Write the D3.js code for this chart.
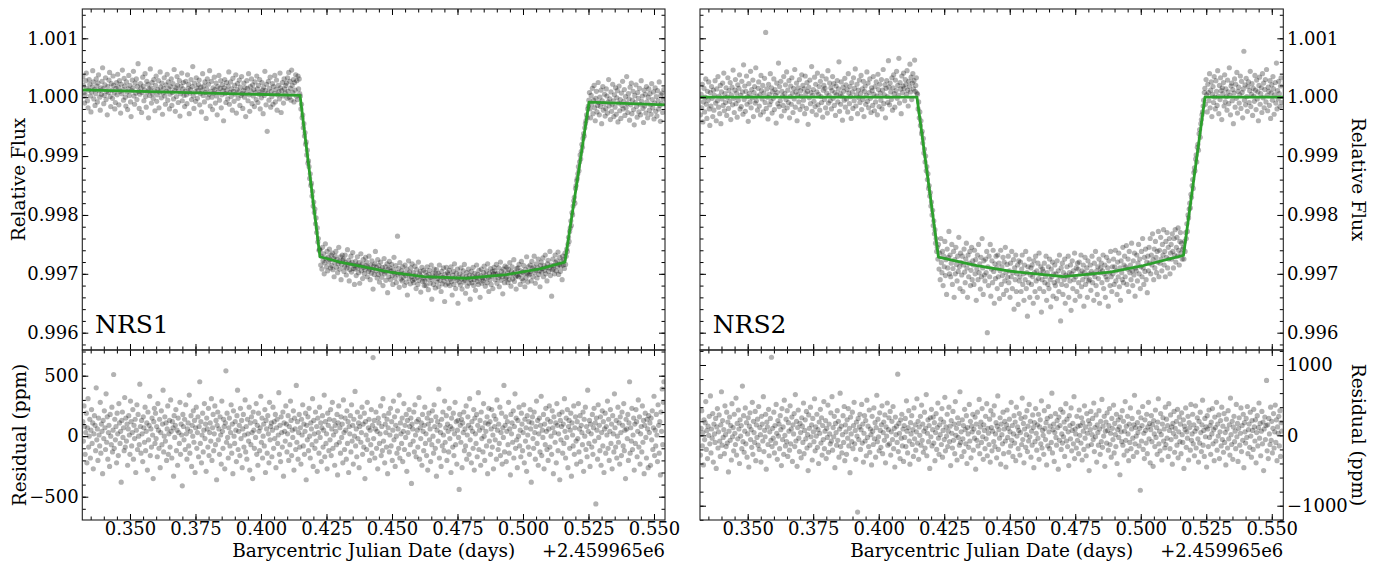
<!DOCTYPE html>
<html>
<head>
<meta charset="utf-8">
<script src="https://cdn.jsdelivr.net/npm/d3@7"></script>
<style>
  body { margin: 0; background: #fff; }
  text { font-family: "DejaVu Serif", serif; font-size: 18px; fill: #000; }
</style>
</head>
<body>
<svg width="1377" height="562"></svg>
<script>
// ---- data -------------------------------------------------------------
// tick labels
var xMajor = [0.350, 0.375, 0.400, 0.425, 0.450, 0.475, 0.500, 0.525, 0.550];
var fluxMajor = [0.996, 0.997, 0.998, 0.999, 1.000, 1.001];
var res1Major = [-500, 0, 500];
var res2Major = [-1000, 0, 1000];
var timeOffsetLabel = "+2.459965e6";

// exposures: BJD - 2459965, regular cadence
var tStart = 0.3320, cadence = 0.000222;

// NRS1 relative flux, (flux - 1) in units of 10 ppm
var nrs1Flux = [
  35,20,8,-10,4,28,41,15,-6,-18,12,30,22,2,-25,9,17,45,26,-3,13,-14,6,31,19,
  -8,24,38,11,0,-22,16,5,27,50,14,-11,3,21,33,-4,10,-30,18,8,29,42,1,-16,23,
  12,-2,36,20,7,-20,-9,15,25,4,39,17,-13,28,10,-27,22,6,46,13,-5,32,19,0,-15,
  26,9,-21,14,37,3,20,-8,-33,11,29,16,44,2,-12,24,7,31,-4,18,57,10,-19,5,23,
  15,-26,8,34,19,-6,12,40,1,-17,27,9,22,-35,14,3,48,16,-10,25,6,-2,30,11,-23,
  20,36,-7,4,13,28,-18,9,43,17,-1,24,-29,7,15,33,2,-12,21,10,39,-5,26,14,-20,
  5,18,31,-14,8,23,-3,47,12,-24,16,1,35,20,-9,11,28,-32,6,19,41,-6,14,25,3,
  -16,10,27,4,-11,38,15,22,-28,7,13,30,-4,18,52,2,-19,24,9,-7,33,16,-2,11,21,
  29,-13,6,17,-25,12,40,3,19,-8,26,8,-36,14,31,-1,22,5,45,-15,10,27,0,-21,16,
  7,34,13,-10,24,2,-30,18,9,37,-5,15,28,-18,4,21,11,-40,16,30,6,-9,25,12,-3,
  19,43,-12,8,26,1,14,-22,32,10,-7,20,5,38,-27,13,23,-2,9,29,-14,17,3,35,6,
  -19,11,24,0,16,-33,7,28,15,-6,40,4,-24,18,10,31,-11,21,2,13,-16,26,8,-4,36,
  14,-9,20,5,30,-20,9,-1,25,12,-28,17,3,44,11,-13,22,-58,7,27,-5,15,34,-17,10,
  1,23,-12,18,6,37,-8,13,29,-22,4,20,9,-3,41,16,-26,11,25,2,-10,31,14,7,20,
  24,-2,33,10,42,0,27,15,-5,46,20,8,30,-8,25,12,38,2,28,-4,36,14,31,6,
  2,-20,-12,-35,-30,-52,-45,-66,-60,-80,-76,-98,-90,-112,-108,-118,-138,-130,-150,-146,
  -168,-160,-185,-178,-196,-190,-215,-205,-230,-222,-246,-240,-260,-258,
  -260,-285,-270,-292,-255,-278,-266,-300,-281,-249,-274,-288,-262,-295,-271,-280,-258,-276,-290,-268,
  -286,-265,-293,-274,-305,-281,-270,-262,-289,-276,-298,-283,-255,-279,-292,-271,-310,-284,-268,-277,
  -275,-296,-288,-268,-281,-302,-290,-259,-285,-277,-312,-293,-283,-270,-297,-280,-264,-291,-286,-318,
  -292,-279,-303,-285,-271,-290,-298,-281,-316,-287,-266,-295,-284,-308,-276,-289,-300,-293,-272,-286,
  -280,-305,-288,-296,-270,-292,-310,-285,-299,-278,-293,-326,-287,-301,-283,-262,-295,-289,-307,-276,
  -301,-286,-314,-293,-280,-298,-306,-289,-320,-295,-274,-300,-288,-311,-297,-283,-332,-292,-305,-279,
  -290,-310,-296,-284,-303,-318,-293,-272,-299,-307,-286,-315,-298,-236,-302,-291,-323,-281,-300,-309,
  -295,-312,-288,-306,-299,-320,-285,-303,-314,-292,-336,-300,-278,-308,-297,-317,-290,-305,-283,-311,
  -298,-315,-309,-287,-302,-325,-293,-306,-318,-280,-311,-300,-296,-331,-304,-289,-313,-307,-294,-320,
  -312,-297,-320,-303,-288,-309,-327,-301,-294,-316,-306,-285,-343,-310,-299,-318,-292,-305,-324,-300,
  -293,-314,-308,-299,-322,-285,-311,-303,-330,-296,-317,-306,-290,-312,-347,-301,-319,-289,-308,-298,
  -316,-301,-294,-320,-309,-288,-313,-336,-302,-296,-318,-283,-307,-325,-299,-311,-292,-350,-306,-314,
  -300,-319,-290,-309,-326,-303,-295,-314,-284,-311,-333,-305,-298,-321,-308,-292,-316,-302,-343,-310,
  -296,-315,-304,-289,-320,-310,-299,-328,-306,-285,-313,-301,-318,-294,-309,-340,-303,-292,-316,-307,
  -312,-298,-287,-308,-321,-302,-295,-315,-283,-306,-330,-299,-310,-291,-318,-304,-296,-325,-300,-289,
  -295,-310,-301,-284,-316,-299,-307,-290,-322,-303,-280,-311,-296,-305,-334,-292,-300,-315,-287,-308,
  -306,-289,-298,-315,-293,-310,-281,-302,-321,-296,-288,-309,-300,-276,-313,-297,-305,-326,-291,-303,
  -290,-305,-284,-301,-318,-295,-279,-308,-297,-312,-286,-300,-322,-293,-307,-271,-299,-314,-288,-302,
  -300,-285,-296,-312,-279,-291,-305,-288,-270,-298,-316,-294,-283,-307,-290,-275,-301,-295,-322,-286,
  -280,-297,-291,-273,-305,-286,-294,-268,-300,-289,-312,-283,-277,-296,-290,-262,-303,-285,-338,-293,
  -275,-292,-286,-300,-268,-281,-295,-278,-288,-263,-301,-284,-272,-296,-287,-279,-310,-270,-285,-276,-291,
  -265,-284,-270,-258,-262,-250,-238,-245,-228,-222,-210,-218,-196,-200,-185,-176,-170,-180,-155,-150,
  -142,-138,-130,-118,-125,-110,-98,-105,-92,-80,-85,-70,-62,-66,-52,-45,-40,-30,-35,-20,-15,-5,
  8,-20,-35,3,-12,15,-28,-5,20,-18,-40,-2,10,-25,-14,25,-9,-30,0,-16,12,-45,-6,18,-22,
  -11,5,-32,-19,14,2,-27,-8,30,-15,-3,-38,9,-24,-12,22,-6,-33,4,-17,16,-29,-1,11,-42,
  -10,19,-23,-4,-36,7,-14,27,-20,-7,13,-31,1,-18,35,-11,-26,6,-3,-39,17,-13,24,-28,-5,
  10,-21,-47,3,-9,21,-16,-34,8,-2,-25,15,-12,-30,28,-7,2,-19,-43,12,-15,5,-27,18,-8,
  -35,0,14,-22,6,-13,-29,23,-4,-18,9,-37,-10,16,-24,1,-32,11,-6,-20,26,-14,-41,4,-11,
  7,-26,-3,13
];

// NRS1 residuals, units of 10 ppm
var nrs1Resid = [
  12,-4,25,8,-15,3,19,-22,7,31,-9,0,14,-18,5,22,-6,11,-27,2,17,9,-12,40,-3,
  6,-20,15,1,-8,28,-14,10,4,-31,13,-2,21,7,-11,35,-5,16,-19,3,9,-25,18,0,-7,
  24,-13,5,51,-10,14,-3,8,-22,19,2,-16,27,11,-6,4,-38,13,20,-1,7,-12,32,-9,15,
  -4,10,-24,6,17,1,-15,29,12,-8,3,22,-19,9,-2,14,-30,5,26,-11,18,0,-7,43,8,
  -14,13,2,-21,16,7,-5,24,-12,4,11,-28,20,-3,9,33,-16,6,-9,15,1,-35,12,23,-6,
  19,-2,8,-17,27,5,-10,14,-26,3,21,-7,10,38,-13,0,16,-4,11,-20,6,25,-15,2,13,
  -9,30,4,-18,12,7,-33,17,-1,9,22,-12,5,-24,15,3,-6,28,-15,10,1,-41,18,8,-3,
  14,-11,26,2,-19,6,11,-8,34,-14,4,17,-25,9,0,21,-5,13,-30,7,24,-10,3,16,-17,
  8,45,-6,12,-22,1,19,-13,5,27,-2,10,-29,15,6,-9,23,-16,3,11,-4,31,-20,7,18,
  -12,2,25,-7,13,-36,9,20,-3,6,-15,16,1,-23,29,4,-10,14,8,-27,11,54,-5,19,-1,
  -18,7,15,-8,3,26,-14,10,-31,21,0,-6,12,5,-21,17,38,-11,4,9,-16,23,-2,13,-26,
  6,18,-9,1,30,-13,8,-19,14,2,-4,24,-28,11,-7,16,3,-35,20,5,-10,12,-1,27,-15,
  9,-24,19,4,-12,7,33,-5,15,-18,0,10,-8,22,-30,13,6,-14,17,2,-22,28,-3,8,11,
  -17,5,24,-10,12,-2,18,-26,7,14,-6,1,36,-15,9,-21,16,3,-9,20,-33,11,4,-4,25,
  10,-13,2,17,-20,8,-7,29,13,-16,5,-1,21,-28,15,6,-11,42,-5,12,-19,3,18,-9,7,
  -23,14,1,26,-8,10,-15,4,19,-36,9,-3,16,-12,23,0,-18,11,6,-7,31,-25,13,2,-10,
  20,-4,8,-29,15,3,-14,24,-1,11,-21,7,17,-9,5,34,-17,12,-6,2,-27,19,9,-12,14,
  -3,22,-16,6,28,-10,1,13,-24,9,4,-7,18,-32,11,25,-5,7,-14,16,-1,10,-22,30,3,
  -11,15,5,-19,21,-6,12,-30,8,2,17,-13,26,-4,9,-23,14,0,37,-8,6,-17,20,-2,11,
  -26,8,16,-5,3,24,-15,10,-9,19,-35,12,1,-11,28,-3,7,14,-20,5,-7,22,-14,9,65,
  -2,13,-18,6,20,-10,4,-27,15,11,-6,2,25,-16,8,-12,31,-4,17,-22,10,3,-9,14,-31,
  7,19,-13,1,23,-8,12,-20,5,29,-3,16,-25,9,0,-14,21,6,-10,34,-18,11,2,-6,15,
  -21,4,27,-11,9,-1,18,-29,13,3,-15,22,8,-7,15,-39,10,6,-4,20,-13,26,1,-17,12,
  5,-9,14,32,-19,7,-2,11,-24,18,4,-12,9,24,-6,2,-16,15,-28,10,19,-3,6,-21,13,
  -7,21,0,-14,26,8,-10,16,-33,5,12,-4,39,-18,9,3,-25,14,-8,20,1,-12,29,-5,7,
  17,-20,10,4,-13,23,-2,8,-30,15,6,-9,19,-16,2,28,-7,12,-23,5,13,-1,-44,18,9,
  -5,14,-26,11,3,20,-12,6,-8,25,-19,1,16,9,-15,31,-3,7,-22,12,4,-10,22,-28,15,
  2,-6,18,-17,9,36,-11,5,13,-24,20,-2,7,-13,27,0,-20,11,4,-8,16,-31,10,23,-4,
  12,-15,6,22,-9,1,-27,17,8,-3,14,-19,30,5,-11,10,-6,24,-16,3,19,-23,7,-1,42,
  -13,9,16,-21,4,12,-7,28,-14,6,-32,18,2,11,-5,21,-18,8,35,-10,15,-3,-26,13,0,
  24,-8,5,-17,19,10,-12,3,26,-22,14,-4,7,-29,17,1,-9,12,-15,22,6,-38,11,16,-2,
  -10,20,3,-19,8,29,-6,13,-24,2,15,-13,9,33,-16,5,-1,18,-27,10,-7,23,4,-11,14,
  -20,6,25,-9,12,0,-15,21,7,-31,16,3,-5,11,-22,27,9,-12,2,18,-36,13,-3,8,20,
  -14,10,-6,31,4,-18,15,-1,22,-26,8,13,-10,5,19,-33,11,1,-8,25,-15,7,16,-4,-23,
  12,-2,27,-13,6,17,-21,9,3,-7,20,-29,14,0,24,-11,8,-17,38,4,-6,13,-25,10,2,
  -9,18,-15,7,23,-4,11,-56,15,5,-19,26,-1,9,-12,16,-24,3,21,-8,12,-30,6,19,-14,
  8,1,29,-10,14,-20,4,22,-6,10,-27,17,2,-13,35,7,-9,13,-18,0,24,-5,11,-23,16,
  3,-16,20,9,-8,27,-12,5,-35,14,6,-2,18,-20,11,45,-14,7,-4,23,-11,1,15,-28,10,
  -6,22,12,-17,4,30,-9,16,-23,2,8,-13,25,-5,13,-31,9,19,-1,-18,14,6,-26,17,3,
  11,-24,15,-3,21,-11,7,33,-16,5,-8,18,1,-21,26,9,-14,12,-32,20,4,39,-7,28,45
];

// NRS2 relative flux, (flux - 1) in units of 10 ppm
var nrs2Flux = [
  -30,5,-18,22,-42,-8,15,-25,0,31,-12,-36,10,-5,26,-20,-48,8,-15,18,-2,-33,12,-22,3,
  28,-10,-40,14,-6,35,-17,2,-28,20,-45,9,-3,24,-14,41,-23,6,-9,16,-31,0,33,-19,11,
  -7,25,-38,4,17,-13,46,-2,-26,12,30,-11,7,-34,21,-5,15,38,-20,3,-16,27,9,-29,55,
  -4,19,-24,10,36,-12,1,-41,23,6,-8,44,-18,13,-1,29,-33,8,18,-10,50,-6,2,-22,15,
  26,-15,4,-30,37,11,-3,20,-25,7,32,-9,110,-19,14,0,-37,22,5,-13,40,-7,16,-27,9,
  -2,31,-21,13,3,-44,24,8,-11,58,-16,18,-6,27,-32,10,2,-14,35,-23,6,21,-4,43,-18,
  12,-9,28,-35,1,19,-12,33,7,-26,15,-3,47,-17,9,24,-40,4,16,-8,30,-21,11,2,38,
  -15,20,-5,14,-28,36,6,-19,25,10,-46,17,-1,29,-11,8,52,-24,3,13,-7,34,-16,22,-30,
  9,41,-13,5,18,-22,27,1,-9,36,-34,12,20,-4,15,-18,31,7,-27,45,-10,3,24,-6,16,
  -20,11,35,-2,23,-14,8,-31,19,4,28,-8,14,60,-24,6,-12,26,2,-39,17,10,-5,32,-17,
  21,-3,13,-25,40,7,-11,18,1,-36,25,9,-19,33,-6,15,48,-15,4,22,-28,12,-1,29,-9,
  6,37,-21,14,-4,27,-33,10,19,-12,3,43,-7,24,-18,8,31,-2,-26,16,11,-14,35,5,-23,
  18,-8,26,2,-30,39,13,-16,22,7,-5,30,-20,12,47,-11,4,21,-35,15,28,1,-9,62,17,
  -13,24,9,-4,33,-22,16,38,6,-17,29,11,44,-2,20,3,66,-10,25,14,-28,36,8,19,41,
  15,-6,30,22,5,45,12,-15,27,18,56,9,34,-4,24,40,14,28,63,10,20,33,7,
  5,-20,-8,-35,-25,-48,-40,-62,-58,-78,-70,-95,-88,-110,-100,-125,-118,-140,
  -130,-155,-150,-168,-162,-185,-178,-200,-192,-218,-210,-232,-225,-248,-240,-262,-255,-275,
  -250,-292,-265,-310,-240,-281,-298,-262,-320,-270,-288,-245,-303,-276,-335,-258,-290,-272,-228,-300,
  -268,-305,-282,-250,-318,-291,-262,-340,-276,-300,-255,-284,-312,-270,-296,-238,-288,-325,-265,-281,
  -302,-270,-330,-285,-258,-297,-315,-275,-248,-290,-340,-268,-305,-282,-262,-320,-294,-255,-310,-278,
  -285,-318,-260,-300,-276,-345,-292,-268,-310,-250,-298,-283,-326,-272,-305,-240,-290,-335,-278,-302,
  -312,-275,-298,-262,-400,-288,-320,-270,-305,-250,-338,-292,-278,-315,-260,-296,-350,-283,-308,-270,
  -290,-325,-268,-305,-282,-342,-295,-260,-318,-288,-303,-272,-335,-280,-312,-255,-298,-328,-284,-306,
  -270,-315,-295,-340,-282,-305,-262,-325,-298,-276,-360,-290,-310,-268,-330,-300,-285,-352,-278,-312,
  -305,-280,-330,-292,-268,-318,-300,-345,-285,-310,-262,-325,-298,-372,-288,-315,-275,-340,-302,-290,
  -318,-285,-305,-350,-278,-298,-330,-270,-312,-295,-340,-282,-308,-265,-325,-300,-288,-365,-310,-292,
  -296,-330,-282,-315,-305,-270,-345,-298,-318,-288,-325,-275,-310,-356,-292,-305,-280,-338,-300,-315,
  -285,-320,-300,-342,-278,-312,-295,-330,-268,-305,-380,-290,-318,-282,-335,-298,-310,-275,-350,-302,
  -320,-288,-305,-270,-340,-298,-312,-285,-362,-300,-278,-325,-295,-310,-265,-345,-305,-290,-330,-282,
  -292,-315,-280,-338,-300,-268,-322,-295,-310,-285,-355,-298,-272,-318,-305,-290,-340,-278,-312,-300,
  -310,-285,-328,-296,-270,-315,-300,-345,-282,-305,-262,-320,-295,-335,-288,-308,-275,-350,-298,-290,
  -282,-315,-295,-268,-325,-300,-285,-340,-305,-272,-310,-290,-355,-278,-298,-320,-262,-305,-330,-288,
  -300,-275,-318,-288,-260,-312,-295,-335,-280,-305,-265,-322,-290,-345,-278,-298,-310,-255,-315,-285,
  -270,-305,-288,-252,-318,-292,-275,-330,-262,-298,-285,-310,-248,-295,-320,-278,-302,-265,-338,-290,
  -295,-268,-312,-282,-250,-300,-275,-325,-288,-262,-305,-240,-290,-318,-272,-296,-258,-310,-280,-332,
  -270,-295,-255,-282,-240,-300,-268,-285,-232,-276,-310,-258,-290,-245,-272,-298,-262,-280,-228,-305,
  -260,-282,-238,-275,-295,-250,-268,-225,-285,-262,-305,-245,-272,-230,-290,-255,-275,-240,-300,-265,
  -250,-275,-232,-262,-290,-240,-268,-225,-280,-255,-238,-270,-222,-260,-285,-245,-230,-265,-248,-275,-258,
  -255,-275,-245,-262,-230,-240,-215,-228,-200,-205,-190,-180,-188,-165,-170,-150,-140,-155,-128,-120,
  -125,-105,-98,-110,-85,-80,-90,-62,-55,-68,-45,-38,-30,-25,-15,-5,8,
  15,-12,30,4,-25,22,8,-6,40,-18,12,26,-33,5,18,-9,35,0,-20,28,10,-14,45,2,-28,
  20,-4,33,11,-38,16,6,25,-15,38,-8,14,1,-22,29,9,-11,50,3,-30,19,24,-6,13,-45,
  7,31,-17,22,-2,42,-27,10,17,-10,4,36,-19,27,8,-35,14,78,-5,21,-13,32,1,-24,18,
  26,-9,11,44,-16,5,23,-31,15,2,-7,37,12,-21,29,-3,9,-40,20,34,-12,6,16,-26,40,
  -1,24,-18,13,30,-8,47,3,-23,17,10,-14,28,-36,7,21,-5,35,14,-29,4,25,-10,58,-20,
  11,-3,27,6,-16,19,33,-9
];

// NRS2 residuals, units of 10 ppm
var nrs2Resid = [
  -28,10,35,-15,4,-42,22,-6,18,48,-20,7,-33,13,0,27,-12,56,-25,9,-4,31,-38,16,2,
  -10,24,-47,12,38,-18,5,29,-8,-30,15,62,-14,21,-3,8,-26,42,1,-16,33,-11,19,-52,6,
  26,-7,14,-35,45,-2,11,-22,30,3,-13,53,-28,17,-5,36,9,-40,22,-1,14,-19,70,-9,28,
  -24,6,39,-12,18,-31,2,25,-45,13,32,-6,8,-17,47,-27,20,4,-10,34,-36,15,-3,23,-14,
  41,-20,11,1,-38,27,16,-8,55,-23,7,-2,30,-48,19,12,-13,37,-29,5,24,-7,111,-16,10,
  -4,33,-25,14,-11,44,3,-34,21,-1,16,-19,28,8,-43,38,-6,12,-27,50,0,-15,23,-9,35,
  -30,18,6,-21,42,-12,9,26,-37,15,2,31,-16,58,-8,20,-44,11,36,-4,-23,17,4,-32,25,
  13,-10,46,-26,7,22,-5,34,-18,1,-50,29,10,-14,40,-2,15,-35,24,5,-9,52,-22,12,-1,
  30,-17,8,-40,19,3,37,-11,25,-28,14,-6,48,-19,6,21,-33,10,-3,43,-24,16,2,-12,32,
  -8,55,-21,11,-2,27,-46,17,4,-14,35,-7,20,-31,9,60,-16,13,-25,1,28,-10,41,-36,15,
  5,-27,22,-4,38,-15,10,-53,26,2,-9,33,-19,14,47,-12,7,-34,19,-1,-109,24,-6,12,30,
  -20,8,44,-11,16,-38,3,28,-8,21,-29,50,-3,13,-16,36,-24,9,1,-42,27,6,-13,39,-5,
  18,-31,11,57,-9,23,-2,-22,32,7,-17,15,42,-26,4,19,-7,29,-39,12,-1,46,-14,8,25,
  -12,34,-28,5,20,-6,41,-19,10,-45,26,1,13,-10,87,-23,17,3,-33,22,-4,30,-15,9,-37,
  14,-3,24,-16,49,6,-25,11,35,-8,-41,18,2,28,-13,8,-30,39,-5,15,-21,5,52,-11,20,
  -34,12,0,27,-14,43,-7,16,-24,6,33,-18,10,58,-29,3,22,-9,14,-47,25,-2,37,-15,8,
  26,-11,18,-36,4,31,-20,11,46,-4,-27,15,1,23,-13,38,-31,7,19,-6,54,-22,12,-1,30,
  -16,6,40,-9,13,-43,21,3,-18,34,-7,16,-26,48,0,10,-35,25,-3,17,-14,62,-10,5,-30,
  22,-5,14,-23,37,8,-12,28,-40,11,2,-17,44,-8,20,-32,13,5,30,-21,9,-4,26,-48,16,
  -7,33,-15,4,51,-26,12,19,-10,38,-2,-34,15,7,-19,27,-5,45,-29,10,3,-13,23,-38,35,
  11,-22,6,29,-9,42,-16,2,18,-32,13,56,-20,8,-4,25,-41,16,1,-12,33,-26,9,20,-8,
  -45,15,36,-3,10,-24,23,5,-15,47,-7,14,-30,2,28,-11,19,-36,40,-1,12,-19,7,31,-28,
  4,24,-13,53,-6,17,-39,9,26,-17,1,35,-23,13,-8,44,-2,20,-31,6,-14,29,11,-46,18,
  -9,38,3,-21,15,-4,30,-34,12,22,-12,49,-18,7,0,-27,35,10,-6,18,-42,24,-15,41,5,
  -19,13,27,-10,60,-25,8,16,-37,4,31,-3,-14,21,11,-48,26,-7,14,37,-20,2,-11,33,-2,
  19,-30,10,45,-8,23,-16,5,-43,28,14,-5,39,-22,7,17,-12,55,-33,9,2,-18,27,-7,13,
  -26,36,0,14,-11,25,-35,18,6,-20,42,-4,12,-29,31,3,-15,21,-50,16,8,34,-13,1,24,
  -6,46,-23,11,-2,29,-38,15,4,-14,35,9,-27,20,-9,51,-17,13,-1,27,-44,6,19,-11,32,
  7,-21,14,38,-13,3,-31,24,10,-6,43,-25,17,1,-16,30,-40,8,22,-3,12,-56,26,5,-9,
  35,-14,20,-28,6,48,-7,13,-22,27,2,-36,16,-10,39,-19,9,24,-4,-30,15,57,-12,11,-1,
  -24,18,4,33,-15,10,-78,25,-8,14,41,-20,3,-33,22,7,-11,30,-26,12,47,-5,17,-39,8,
  28,-9,15,-44,21,2,-16,36,-3,11,-27,19,52,-12,6,-22,31,1,-35,16,25,-8,9,-18,40,
  -13,23,-4,14,-30,45,7,-19,29,-6,12,-41,17,3,34,-24,10,-2,20,-14,37,-32,5,26,-9,
  16,-26,32,1,-10,22,-47,13,8,39,-17,5,-4,27,-35,18,11,-21,44,-7,2,30,-12,15,-29,
  6,42,-18,10,25,-5,-38,20,-11,33,4,-23,15,50,-14,7,-30,24,-2,12,-45,28,9,-16,36,
  -3,14,-27,19,2,38,-12,8,-36,26,11,-8,47,-21,16,-1,29,-33,5,21,-15,40,-6,13,-24,
  31,-10,4,-42,23,9,-18,35,-5,15,-28,53,1,-13,20,-34,12,27,-9,6,-19,44,-2,17,-37,
  10,25,-14,3,39,-23,14,-7,30,-46,18,5,-11,24,-3,41,-26,8,16,-17,33,-1,-31,21,7,
  -20,37,12,-8,22,-39,4,28,-15,11,46,-4,17,-29,6,34,-12,19,-50,9,26,-6,14,78,-22,
  15,-33,24,2,-13,40,-7,20,-25,10,31,-18,5,43,-10,22,-36,12,3,27,-15,35,-30,18,6
];

// best-fit transit models (time, relative flux)
var nrs1Model = [[0.3318, 1.000126], [0.4149, 1.000030], [0.4225, 0.997290], [0.4302, 0.997198],
  [0.4492, 0.997027], [0.4620, 0.996954], [0.4785, 0.996925], [0.4938, 0.996988],
  [0.5065, 0.997085], [0.5160, 0.997198], [0.5252, 0.999915], [0.5542, 0.999870]];
var nrs2Model = [[0.3318, 1.000000], [0.4146, 1.000000], [0.4228, 0.997283], [0.4374, 0.997141],
  [0.4501, 0.997044], [0.4705, 0.996954], [0.4883, 0.997027], [0.5010, 0.997141],
  [0.5163, 0.997312], [0.5245, 1.000000], [0.5544, 1.000000]];

// ---- layout -----------------------------------------------------------
var svg = d3.select("svg");
var topY = 9, midY = 350, botY = 520;
var fluxDomain = [0.995706, 1.001498];

var panels = [
  {label: "NRS1", left: 82.3, right: 665, tDomain: [0.3318, 0.5542], side: "left",
   flux: nrs1Flux, resid: nrs1Resid, model: nrs1Model,
   resDomain: [-692.6, 712.4], resMajor: res1Major, resStep: 100},
  {label: "NRS2", left: 700, right: 1283.3, tDomain: [0.3318, 0.5544], side: "right",
   flux: nrs2Flux, resid: nrs2Resid, model: nrs2Model,
   resDomain: [-1203, 1213], resMajor: res2Major, resStep: 200}
];

function minorTicks(domain, step) {
  var lo = Math.min(domain[0], domain[1]), hi = Math.max(domain[0], domain[1]);
  return d3.range(Math.ceil(lo / step - 1e-9), Math.floor(hi / step + 1e-9) + 1)
    .map(function(k) { return +(k * step).toFixed(6); });
}

function addAxis(orient, scale, major, minor, pos, labels, fmt) {
  var make = {left: d3.axisLeft, right: d3.axisRight, top: d3.axisTop, bottom: d3.axisBottom}[orient];
  var tf = (orient === "left" || orient === "right") ? "translate(" + pos + ",0)" : "translate(0," + pos + ")";
  var gMin = svg.append("g").attr("transform", tf).attr("color", "#000")
    .call(make(scale).tickValues(minor).tickSize(-3.5).tickFormat(""));
  gMin.select(".domain").remove();
  var pad = (orient === "bottom") ? 2.6 : 3.6;
  var gMaj = svg.append("g").attr("transform", tf).attr("color", "#000")
    .call(make(scale).tickValues(major).tickSize(-6).tickPadding(pad)
      .tickFormat(labels ? fmt : ""));
  gMaj.select(".domain").remove();
}

var fmt3 = d3.format(".3f"), fmtInt = d3.format("d");

panels.forEach(function(p, pi) {
  var x = d3.scaleLinear(p.tDomain, [p.left, p.right]);
  var yF = d3.scaleLinear(fluxDomain, [midY, topY]);
  var yR = d3.scaleLinear(p.resDomain, [botY, midY]);
  var tAt = function(d, i) { return x(tStart + i * cadence); };

  // clip regions
  var defs = svg.append("defs");
  defs.append("clipPath").attr("id", "clipTop" + pi).append("rect")
    .attr("x", p.left).attr("y", topY).attr("width", p.right - p.left).attr("height", midY - topY);
  defs.append("clipPath").attr("id", "clipBot" + pi).append("rect")
    .attr("x", p.left).attr("y", midY).attr("width", p.right - p.left).attr("height", botY - midY);

  // light curve
  var gTop = svg.append("g").attr("clip-path", "url(#clipTop" + pi + ")");
  gTop.selectAll("circle").data(p.flux).join("circle")
    .attr("cx", tAt)
    .attr("cy", function(d) { return yF(1 + d * 1e-5); })
    .attr("r", 2.6).attr("fill", "#000").attr("fill-opacity", 0.3);
  gTop.append("path").datum(p.model)
    .attr("d", d3.line().x(function(d) { return x(d[0]); }).y(function(d) { return yF(d[1]); }))
    .attr("fill", "none").attr("stroke", "#2ca02c").attr("stroke-width", 2.8)
    .attr("stroke-linejoin", "round");

  // residuals
  var gBot = svg.append("g").attr("clip-path", "url(#clipBot" + pi + ")");
  gBot.selectAll("circle").data(p.resid).join("circle")
    .attr("cx", tAt)
    .attr("cy", function(d) { return yR(d * 10); })
    .attr("r", 2.6).attr("fill", "#000").attr("fill-opacity", 0.3);

  // axes, ticks pointing inward on every side
  var xMinor = minorTicks(p.tDomain, 0.005);
  var fMinor = minorTicks(fluxDomain, 0.0002);
  var rMinor = minorTicks(p.resDomain, p.resStep);
  var labLeft = p.side === "left";

  addAxis("top", x, xMajor, xMinor, topY, false);
  addAxis("bottom", x, xMajor, xMinor, midY, false);
  addAxis("left", yF, fluxMajor, fMinor, p.left, labLeft, fmt3);
  addAxis("right", yF, fluxMajor, fMinor, p.right, !labLeft, fmt3);

  addAxis("top", x, xMajor, xMinor, midY, false);
  addAxis("bottom", x, xMajor, xMinor, botY, true, fmt3);
  addAxis("left", yR, p.resMajor, rMinor, p.left, labLeft, fmtInt);
  addAxis("right", yR, p.resMajor, rMinor, p.right, !labLeft, fmtInt);

  [[topY, midY], [midY, botY]].forEach(function(r) {
    svg.append("rect").attr("x", p.left).attr("y", r[0])
      .attr("width", p.right - p.left).attr("height", r[1] - r[0])
      .attr("fill", "none").attr("stroke", "#222").attr("stroke-width", 1.1);
  });

  // texts
  svg.append("text").attr("x", p.left + 12.7).attr("y", 333.3)
    .style("font-size", "25px").text(p.label);
  svg.append("text").attr("x", (p.left + p.right) / 2).attr("y", 556.8)
    .attr("text-anchor", "middle").style("font-size", "18.5px")
    .text("Barycentric Julian Date (days)");
  svg.append("text").attr("x", p.right).attr("y", 556.8)
    .attr("text-anchor", "end").style("font-size", "18px").text(timeOffsetLabel);

  var lx = labLeft ? 25 : 1351.5, rot = labLeft ? -90 : 90;
  svg.append("text").attr("transform", "translate(" + lx + "," + (topY + midY) / 2 + ") rotate(" + rot + ")")
    .attr("text-anchor", "middle").style("font-size", "18.5px").text("Relative Flux");
  svg.append("text").attr("transform", "translate(" + (labLeft ? 26 : 1351.5) + "," + (midY + botY) / 2 + ") rotate(" + rot + ")")
    .attr("text-anchor", "middle").style("font-size", "18.5px").text("Residual (ppm)");
});
</script>
</body>
</html>
